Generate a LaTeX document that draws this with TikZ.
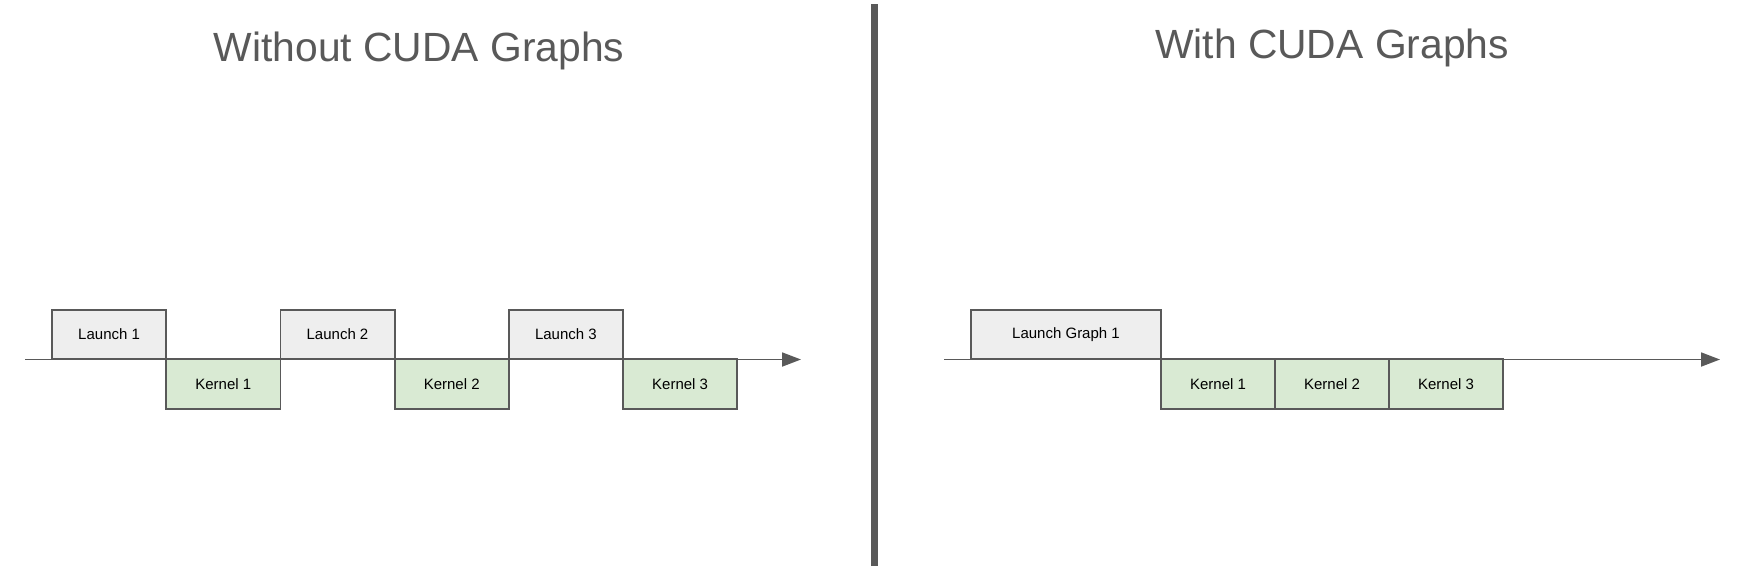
\documentclass[tikz,border=0pt]{standalone}
\usepackage{fontspec}
\setmainfont{Liberation Sans}
\usetikzlibrary{arrows.meta}
\definecolor{dgray}{HTML}{595959}
\definecolor{lfill}{HTML}{EEEEEE}
\definecolor{kfill}{HTML}{D9EAD3}
\tikzset{
  box/.style={draw=dgray, line width=1.8pt, minimum height=49.7pt, inner sep=0pt, text=black, font=\fontsize{15}{18}\selectfont},
  launchbox/.style={box, fill=lfill},
  kernelbox/.style={box, fill=kfill},
  axisline/.style={draw=dgray, line width=1.8pt, -{Triangle[length=19pt,width=14pt]}},
  titletext/.style={text=dgray, font=\fontsize{40.8}{48}\selectfont, anchor=base, inner sep=0pt},
}
\begin{document}
\begin{tikzpicture}[x=1pt,y=-1pt]
\useasboundingbox (0,0) rectangle (1763,566);
\fill[white] (0,0) rectangle (1763,566);
% titles
\node[titletext] (t1) at (419,61) {Without CUDA Graphs};
\node[titletext] (t2) at (1332,58.5) {With CUDA Graphs};
% divider
\coordinate (d1) at (874,4);
\coordinate (d2) at (874,566);
\draw[dgray, line width=7pt] (d1) -- (d2);
% axes
\coordinate (a1) at (25,359.5);
\coordinate (a2) at (801,359.5);
\coordinate (b1) at (944,359.5);
\coordinate (b2) at (1720,359.5);
\draw[axisline] (a1) -- (a2);
\draw[axisline] (b1) -- (b2);
% left boxes
\node[launchbox, minimum width=114.2pt] (l1) at (109.1,334.5) {Launch 1};
\node[kernelbox, minimum width=114.2pt] (k1) at (223.3,384.2) {Kernel 1};
\node[launchbox, minimum width=114.2pt] (l2) at (337.5,334.5) {Launch 2};
\node[kernelbox, minimum width=114.2pt] (k2) at (451.7,384.2) {Kernel 2};
\node[launchbox, minimum width=114.2pt] (l3) at (565.9,334.5) {Launch 3};
\node[kernelbox, minimum width=114.2pt] (k3) at (680.1,384.2) {Kernel 3};
% right boxes
\node[launchbox, minimum width=190pt] (lg) at (1066,334.5) {Launch Graph 1};
\node[kernelbox, minimum width=114pt] (g1) at (1218,384.2) {Kernel 1};
\node[kernelbox, minimum width=114pt] (g2) at (1332,384.2) {Kernel 2};
\node[kernelbox, minimum width=114pt] (g3) at (1446,384.2) {Kernel 3};
\end{tikzpicture}
\end{document}
